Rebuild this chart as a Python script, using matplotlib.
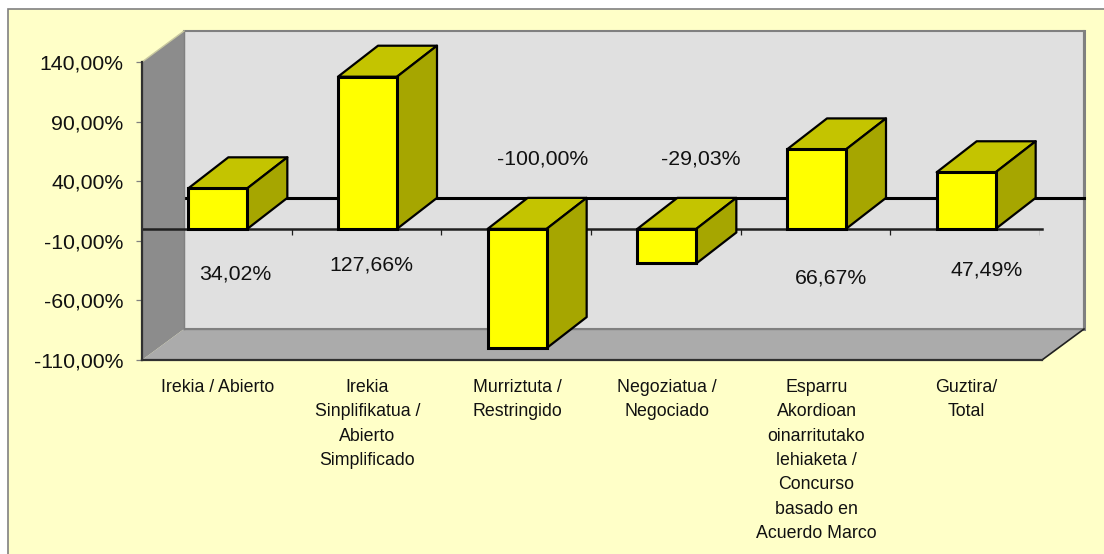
import numpy as np
from matplotlib import pyplot as plt
from matplotlib.patches import Rectangle

plt.rcParams['font.family'] = ['Liberation Sans']

categories = ['Irekia / Abierto',
              'Irekia\nSinplifikatua /\nAbierto\nSimplificado',
              'Murriztuta /\nRestringido',
              'Negoziatua /\nNegociado',
              'Esparru\nAkordioan\noinarritutako\nlehiaketa /\nConcurso\nbasado en\nAcuerdo Marco',
              'Guztira/\nTotal']
values = [34.02, 127.66, -100.00, -29.03, 66.67, 47.49]
value_labels = ['34,02%', '127,66%', '-100,00%', '-29,03%', '66,67%', '47,49%']
y_ticks = [-110, -60, -10, 40, 90, 140]
y_tick_labels = ['-110,00%', '-60,00%', '-10,00%', '40,00%', '90,00%', '140,00%']

# where excel left the data labels, in category / value units
label_x = [0.62, 1.535, 2.68, 3.73, 4.605, 5.645]
label_y = [-37.5, -30.5, 59, 58.5, -41.5, -34.5]

W, H = 1104, 554
fig = plt.figure(figsize=(W/100, H/100), dpi=100, facecolor='white')
fig.add_artist(Rectangle((8/W, -0.1), 1.1, 1.1 - 9/H, transform=fig.transFigure,
                         facecolor='#FFFFC8', edgecolor='#808080', linewidth=1.2, zorder=-1))

ax = fig.add_axes([142/W, 1 - 360/H, 898/W, 298/H])
ax.patch.set_visible(False)
ax.set_xlim(0, 6)
ax.set_ylim(-110, 140)

# depth of the fake 3d box
unit_x = 898 / 6
wall_dx = 42 / unit_x
wall_dy = 31 / (298 / 250)
bar_dx = 40 / unit_x
bar_dy = 31 / (298 / 250)
bar_w = 59 / unit_x
x_end = 6 + 2 / unit_x  # floor runs a bit past the last tick

# walls
ax.fill([wall_dx, x_end + wall_dx, x_end + wall_dx, wall_dx],
        [-110 + wall_dy, -110 + wall_dy, 140 + wall_dy, 140 + wall_dy],
        facecolor='#E0E0E0', edgecolor='#808080', lw=1.5, clip_on=False, zorder=1)
ax.plot([x_end + wall_dx, x_end + wall_dx], [-110 + wall_dy, 140 + wall_dy],
        color='#808080', lw=2.2, clip_on=False, zorder=1.1)
ax.plot([wall_dx, x_end + wall_dx], [wall_dy, wall_dy], color='black', lw=2.2,
        clip_on=False, zorder=1.5)
ax.fill([0, wall_dx, wall_dx, 0], [-110, -110 + wall_dy, 140 + wall_dy, 140],
        facecolor='#8C8C8C', edgecolor='none', clip_on=False, zorder=2)
ax.fill([0, wall_dx, x_end + wall_dx, x_end], [-110, -110 + wall_dy, -110 + wall_dy, -110],
        facecolor='#ABABAB', edgecolor='none', clip_on=False, zorder=2)
ax.plot([wall_dx, x_end + wall_dx], [-110 + wall_dy, -110 + wall_dy], color='#808080', lw=1,
        clip_on=False, zorder=2.1)
ax.plot([wall_dx, wall_dx], [-110 + wall_dy, 140 + wall_dy], color='#808080', lw=1,
        clip_on=False, zorder=2.1)
ax.plot([x_end, x_end + wall_dx], [-110, -110 + wall_dy], color='#202020', lw=1.2,
        clip_on=False, zorder=2.1)
ax.plot([0, wall_dx], [140, 140 + wall_dy], color='#C8C8A0', lw=1,
        clip_on=False, zorder=2.1)
ax.plot([0, x_end], [-110, -110], color='#303030', lw=1.6, clip_on=False, zorder=3)

# axis line at zero with its ticks
ax.plot([0, x_end], [0, 0], color='#202020', lw=1.8, zorder=3, clip_on=False)
ax.vlines(np.arange(1, 7), -5, 0, color='#202020', lw=0.9, zorder=3)

# bars
x = np.arange(len(values)) + 0.5 + 1 / unit_x
for xi, v in zip(x, values):
    left = xi - bar_w / 2
    right = xi + bar_w / 2
    top = max(v, 0)
    # top face
    ax.fill([left, left + bar_dx, right + bar_dx, right],
            [top, top + bar_dy, top + bar_dy, top],
            facecolor='#C4C400', edgecolor='black', lw=1.6, joinstyle='round',
            clip_on=False, zorder=4)
    # side face
    ax.fill([right, right + bar_dx, right + bar_dx, right],
            [min(v, 0), min(v, 0) + bar_dy, top + bar_dy, top],
            facecolor='#A6A600', edgecolor='black', lw=1.6, joinstyle='round',
            clip_on=False, zorder=4)
ax.bar(x, values, width=bar_w, color='#FFFF00', edgecolor='black', linewidth=2.2,
       zorder=5, clip_on=False)

for lx, ly, lab in zip(label_x, label_y, value_labels):
    ax.text(lx, ly, lab, ha='center', va='center', fontsize=15.3, color='#111111', zorder=6)

ax.set_yticks(y_ticks)
ax.set_yticklabels(y_tick_labels, fontsize=15.3, color='#111111')
ax.tick_params(axis='y', length=4.5, width=0.9, color='#808080', pad=9)
ax.set_xticks(x)
ax.set_xticklabels(categories, fontsize=12.8, linespacing=1.57, color='#111111')
ax.tick_params(axis='x', length=0, pad=13.5)

ax.spines['top'].set_visible(False)
ax.spines['right'].set_visible(False)
ax.spines['bottom'].set_visible(False)
ax.spines['left'].set_color('#303030')
ax.spines['left'].set_linewidth(1.6)
ax.spines['left'].set_zorder(3)

fig.savefig('out.png', dpi=100)
